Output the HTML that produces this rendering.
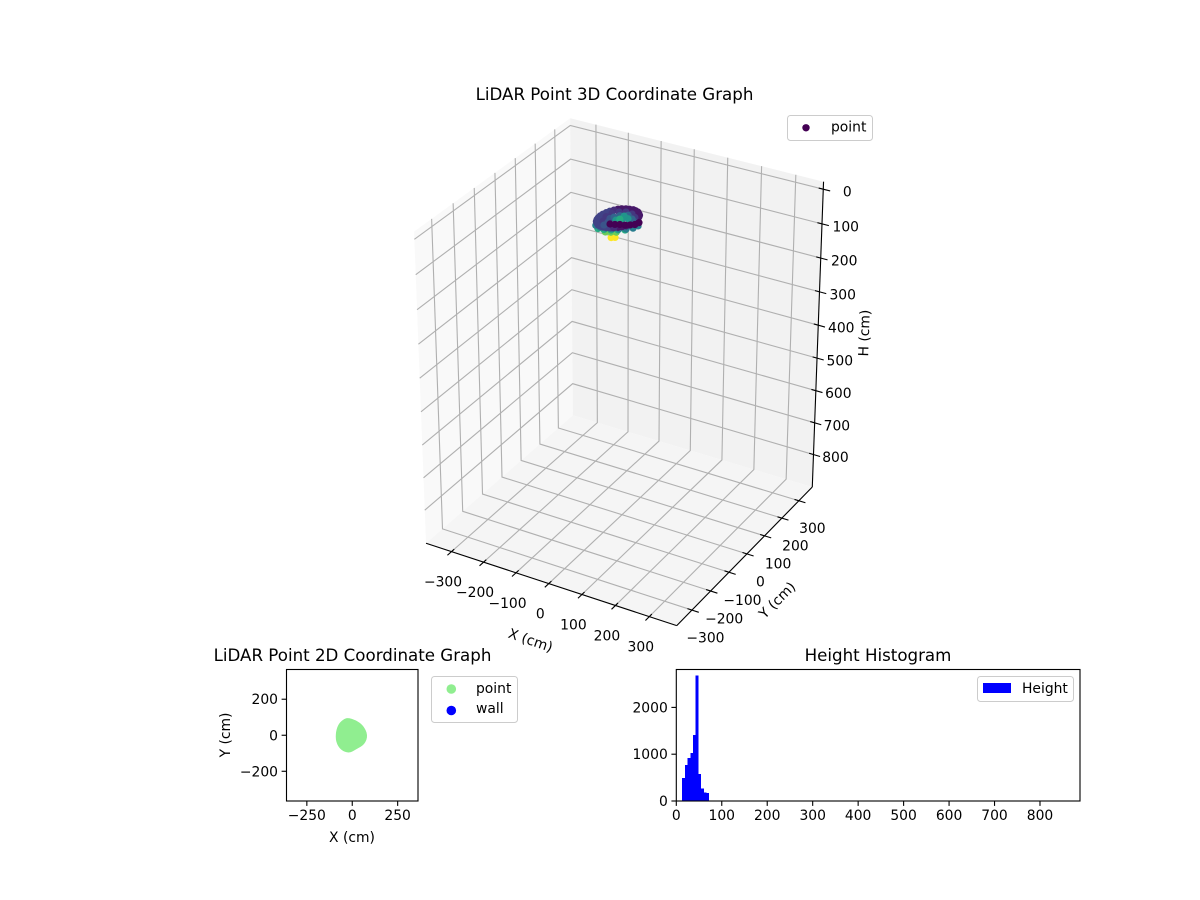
<!DOCTYPE html>
<html>
<head>
<meta charset="utf-8">
<title>LiDAR Point Graphs</title>
<style>
html,body{margin:0;padding:0;background:#fff;}
svg{display:block;}
text{font-family:"DejaVu Sans","Liberation Sans",sans-serif;font-size:13.89px;fill:#000;}
.title{font-size:16.67px;text-anchor:middle;}
.mid{text-anchor:middle;}
.end{text-anchor:end;}
.leg{fill:#000;}
</style>
</head>
<body>
<svg id="fig" xmlns="http://www.w3.org/2000/svg" width="1200" height="900" viewBox="0 0 1200 900">
<rect width="1200" height="900" fill="#fff"/>
<g id="g3d"></g>
<text class="title" x="614.5" y="100">LiDAR Point 3D Coordinate Graph</text>
<g>
<rect x="787.5" y="115.5" width="85" height="25" rx="3" fill="#fff" fill-opacity="0.8" stroke="#cccccc"/>
<circle cx="806" cy="127.8" r="3.7" fill="#440154"/>
<text x="831" y="131.5">point</text>
</g>
<g id="g2d"></g>
<text class="title" x="352.5" y="661">LiDAR Point 2D Coordinate Graph</text>
<g>
<rect x="431.5" y="676.5" width="86" height="46" rx="3" fill="#fff" fill-opacity="0.8" stroke="#cccccc"/>
<circle cx="451.3" cy="689" r="4.8" fill="#90ee90"/>
<text x="476" y="693">point</text>
<circle cx="451.3" cy="710.5" r="4.8" fill="#0000ff"/>
<text x="476" y="713">wall</text>
</g>
<g id="ghist"></g>
<text class="title" x="878" y="661">Height Histogram</text>
<g>
<rect x="977.5" y="676.5" width="96" height="25" rx="3" fill="#fff" fill-opacity="0.8" stroke="#cccccc"/>
<rect x="983" y="683" width="28" height="10" fill="#0000ff"/>
<text x="1022" y="693">Height</text>
</g>
</svg>
<script>
// ---------- chart data ----------
const xTicks3d = [-300,-200,-100,0,100,200,300];
const yTicks3d = [-300,-200,-100,0,100,200,300];
const hTicks3d = [0,100,200,300,400,500,600,700,800];
const xLim3d = [-365,365];
const yLim3d = [-365,365];
const hLim3d = [-3,885];

const pointsX = [-32,-24,
  -47,-34,-22,
  -63,-47,-30,-15,1,
  -65,-51,-35,-20,-4,12,25,30,
  25,12,-4,-23,-40,-60,-67,-67,-61,-48,-31,-13,11,25,32,30,
  19,4,-14,-32,-50,-64,-68,-65,-55,-40,-22,-1,18,29,32,28,
  -45,-51,-47,-35,-20,-1,15,
  -37,-38,-43,18,
  -42,-33,-16,3,
  -41,-30,-18,-34,-41,
  -12,0,11,24,35,44,48];
const pointsY = [0,6,
  -4,2,9,
  -14,-11,-4,5,14,
  -21,-24,-21,-16,-9,0,13,30,
  46,60,65,60,48,41,18,-5,-25,-39,-44,-39,-39,-22,2,29,
  53,63,63,55,45,30,7,-15,-32,-42,-42,-40,-31,-10,16,38,
  -18,7,30,46,55,53,40,
  -7,-26,13,30,
  32,46,59,46,
  40,52,62,70,60,
  -40,-36,-30,-26,-19,-11,3];
const pointsH = [76,76,
  62,62,62,
  52,52,52,52,52,
  40,40,40,40,40,40,40,40,
  18,18,18,18,18,26,26,26,26,26,26,26,18,18,18,18,
  18,18,18,18,22,26,26,26,26,26,26,22,18,18,18,18,
  24,24,24,24,24,24,24,
  30,30,30,30,
  34,34,34,34,
  46,46,46,46,52,
  14,14,14,14,14,14,14];

const xTicks2d = [-250,0,250];
const yTicks2d = [-200,0,200];
const xLim2d = [-362,362];
const yLim2d = [-365,365];
const blobX = [-22,16,58,84,66,22,-16,-62,-88,-88,-72,-42];
const blobY = [94,83,54,0,-50,-74,-98,-80,-36,20,64,90];

const histBinStart = 13;
const histBinWidth = 5.94;
const histCounts = [495,773,921,1028,1411,2687,581,262,180,175];
const histXTicks = [0,100,200,300,400,500,600,700,800];
const histYTicks = [0,1000,2000];
const histXLim = [0,888];
const histYLim = [0,2810];

// ---------- helpers ----------
const NS = 'http://www.w3.org/2000/svg';
function mk(parent, tag, attrs, txt){
  const el = document.createElementNS(NS, tag);
  for (const k in attrs) el.setAttribute(k, attrs[k]);
  if (txt !== undefined) el.textContent = txt;
  parent.appendChild(el);
  return el;
}
function fmt(v){ return v < 0 ? '\u2212' + (-v) : String(v); }
const viridisStops = ['#440154','#482475','#414487','#355f8d','#2a788e','#21918c','#22a884','#44bf70','#7ad151','#bddf26','#fde725'];
function hex(c){ return [1,3,5].map(i => parseInt(c.substr(i,2),16)); }
function viridis(t){
  t = Math.max(0, Math.min(1, t));
  const p = t * (viridisStops.length - 1), i = Math.min(Math.floor(p), viridisStops.length - 2), f = p - i;
  const a = hex(viridisStops[i]), b = hex(viridisStops[i+1]);
  return 'rgb(' + a.map((v,k) => Math.round(v + (b[k]-v)*f)).join(',') + ')';
}

// ---------- 3D projection ----------
const HX = 0.55, HZ = 0.672, PAD = 1 + 1/24, DIST = 12;
const U = [0.8660254, 0.5, 0];
const V = [-0.25, 0.4330127, 0.8660254];
const W = [0.4330127, -0.75, 0.5];
const pxX = v => (v - (xLim3d[0]+xLim3d[1])/2) / ((xLim3d[1]-xLim3d[0])/2) * HX;
const pxY = v => (v - (yLim3d[0]+yLim3d[1])/2) / ((yLim3d[1]-yLim3d[0])/2) * HX;
const pxH = v => HZ - (v - hLim3d[0]) / (hLim3d[1]-hLim3d[0]) * 2 * HZ;
function proj(a,b,c){
  const d = DIST - (W[0]*a + W[1]*b + W[2]*c);
  const u = (U[0]*a + U[1]*b) / d;
  const v = (V[0]*a + V[1]*b + V[2]*c) / d;
  return [622 + 3047*u, 365 - 3050*v];
}
const XN = -HX*PAD, XP = HX*PAD, YN = -HX*PAD, YP = HX*PAD, ZB = -HZ*PAD, ZT = HZ*PAD;
function pl(pts){ return pts.map(p => p[0].toFixed(2)+','+p[1].toFixed(2)).join(' '); }

const g3 = document.getElementById('g3d');
const leftPane = mk(g3,'polygon',{points:pl([proj(XN,YN,ZT),proj(XN,YP,ZT),proj(XN,YP,ZB),proj(XN,YN,ZB)]),fill:'#f9f9f9'});


const rightPane = mk(g3,'polygon',{points:pl([proj(XN,YP,ZT),proj(XP,YP,ZT),proj(XP,YP,ZB),proj(XN,YP,ZB)]),fill:'#f2f2f2'});


const floorPane = mk(g3,'polygon',{points:pl([proj(XN,YN,ZB),proj(XN,YP,ZB),proj(XP,YP,ZB),proj(XP,YN,ZB)]),fill:'#f5f5f5'});



const GRID = {fill:'none',stroke:'#b0b0b0','stroke-width':1.11};
xTicks3d.forEach(t => {
  const a = pxX(t);
  const el = mk(g3,'polyline',Object.assign({points:pl([proj(a,YN,ZB),proj(a,YP,ZB),proj(a,YP,ZT)])},GRID));
  
  
});
yTicks3d.forEach(t => {
  const b = pxY(t);
  const el = mk(g3,'polyline',Object.assign({points:pl([proj(XP,b,ZB),proj(XN,b,ZB),proj(XN,b,ZT)])},GRID));
  
  
});
hTicks3d.forEach(t => {
  const c = pxH(t);
  const el = mk(g3,'polyline',Object.assign({points:pl([proj(XN,YN,c),proj(XN,YP,c),proj(XP,YP,c)])},GRID));
  
  
});

// axis lines
const AX = {stroke:'#000','stroke-width':1.11,fill:'none'};
const axisX = mk(g3,'polyline',Object.assign({points:pl([proj(XN,YN,ZB),proj(XP,YN,ZB)])},AX));


const axisY = mk(g3,'polyline',Object.assign({points:pl([proj(XP,YN,ZB),proj(XP,YP,ZB)])},AX));


const axisH = mk(g3,'polyline',Object.assign({points:pl([proj(XP,YP,ZB),proj(XP,YP,ZT)])},AX));



// ticks + labels
xTicks3d.forEach(t => {
  const a = pxX(t);
  const p = proj(a,YN,ZB);
  const tk = mk(g3,'polyline',Object.assign({points:pl([proj(a,YN-0.03,ZB),proj(a,YN+0.02,ZB)])},AX));
  
  
  const lb = mk(g3,'text',{x:p[0]-8.5,y:p[1]+35,class:'mid'},fmt(t));
  
  
});
yTicks3d.forEach(t => {
  const b = pxY(t);
  const p = proj(XP,b,ZB);
  const tk = mk(g3,'polyline',Object.assign({points:pl([proj(XP+0.03,b,ZB),proj(XP-0.02,b,ZB)])},AX));
  
  
  const lb = mk(g3,'text',{x:p[0]+13.5,y:p[1]+32.5,class:'mid'},fmt(t));
  
  
});
hTicks3d.forEach(t => {
  const c = pxH(t);
  const p = proj(XP,YP,c);
  const tk = mk(g3,'polyline',Object.assign({points:pl([proj(XP+0.03,YP,c),proj(XP-0.02,YP,c)])},AX));
  
  
  const lb = mk(g3,'text',{x:p[0]+24-t*0.0025,y:p[1]+7.5,class:'mid'},fmt(t));
  
  
});

const xl3 = mk(g3,'text',{class:'mid',transform:'translate(530.7,640) rotate(19) translate(0,5)'},'X (cm)');


const yl3 = mk(g3,'text',{class:'mid',transform:'translate(777,600) rotate(-45) translate(0,5)'},'Y (cm)');


const hl3 = mk(g3,'text',{class:'mid',transform:'translate(864,333) rotate(-88) translate(0,5)'},'H (cm)');



// scatter
const hMin = Math.min(...pointsH), hMax = Math.max(...pointsH);
pointsX.forEach((x,i) => {
  const p = proj(pxX(x),pxY(pointsY[i]),pxH(pointsH[i]));
  const el = mk(g3,'circle',{cx:p[0].toFixed(2),cy:p[1].toFixed(2),r:3.6,fill:viridis((pointsH[i]-hMin)/(hMax-hMin))});
  
  
});

// ---------- 2D chart ----------
const g2 = document.getElementById('g2d');
const L2 = 286.5, R2 = 418, T2 = 669.5, B2 = 801;
const sx2 = v => L2 + (v-xLim2d[0])/(xLim2d[1]-xLim2d[0])*(R2-L2);
const sy2 = v => B2 - (v-yLim2d[0])/(yLim2d[1]-yLim2d[0])*(B2-T2);
const bg2 = mk(g2,'rect',{x:L2,y:T2,width:R2-L2,height:B2-T2,fill:'#fff'});


let blobD = '';
const nB = blobX.length;
blobX.forEach((x,i) => {
  const j = (i+1)%nB;
  const cx = sx2(x), cy = sy2(blobY[i]);
  const mx = (cx+sx2(blobX[j]))/2, my = (cy+sy2(blobY[j]))/2;
  if (i === 0) {
    const k = nB-1;
    blobD += 'M'+((sx2(blobX[k])+cx)/2).toFixed(2)+' '+((sy2(blobY[k])+cy)/2).toFixed(2);
  }
  blobD += 'Q'+cx.toFixed(2)+' '+cy.toFixed(2)+' '+mx.toFixed(2)+' '+my.toFixed(2);
});
const blob = mk(g2,'path',{d:blobD+'Z',fill:'#90ee90',stroke:'#90ee90','stroke-width':1});


const fr2 = mk(g2,'rect',{x:L2,y:T2,width:R2-L2,height:B2-T2,fill:'none',stroke:'#000','stroke-width':1.11});


xTicks2d.forEach(t => {
  const x = sx2(t);
  const tk = mk(g2,'line',{x1:x,x2:x,y1:B2,y2:B2+4.9,stroke:'#000','stroke-width':1.11});
  
  
  const lb = mk(g2,'text',{x:x,y:820,class:'mid'},fmt(t));
  
  
});
yTicks2d.forEach(t => {
  const y = sy2(t);
  const tk = mk(g2,'line',{x1:L2-4.9,x2:L2,y1:y,y2:y,stroke:'#000','stroke-width':1.11});
  
  
  const lb = mk(g2,'text',{x:L2-8.5,y:y+5,class:'end'},fmt(t));
  
  
});
const xl2 = mk(g2,'text',{x:352,y:842,class:'mid'},'X (cm)');


const yl2 = mk(g2,'text',{class:'mid',transform:'translate(230,735) rotate(-90)'},'Y (cm)');



// ---------- Histogram ----------
const gh = document.getElementById('ghist');
const LH = 676.3, RH = 1080, TH = 669.5, BH = 801;
const sxH = v => LH + (v-histXLim[0])/(histXLim[1]-histXLim[0])*(RH-LH);
const syH = v => BH - (v-histYLim[0])/(histYLim[1]-histYLim[0])*(BH-TH);
histCounts.forEach((c,i) => {
  const x0 = sxH(histBinStart + i*histBinWidth), x1 = sxH(histBinStart + (i+1)*histBinWidth);
  const el = mk(gh,'rect',{x:x0.toFixed(2),y:syH(c).toFixed(2),width:(x1-x0).toFixed(2),height:(BH-syH(c)).toFixed(2),fill:'#0000ff','shape-rendering':'crispEdges'});
  
  
});
const frH = mk(gh,'rect',{x:LH,y:TH,width:RH-LH,height:BH-TH,fill:'none',stroke:'#000','stroke-width':1.11});


histXTicks.forEach(t => {
  const x = sxH(t);
  const tk = mk(gh,'line',{x1:x,x2:x,y1:BH,y2:BH+4.9,stroke:'#000','stroke-width':1.11});
  
  
  const lb = mk(gh,'text',{x:x,y:820,class:'mid'},fmt(t));
  
  
});
histYTicks.forEach(t => {
  const y = syH(t);
  const tk = mk(gh,'line',{x1:LH-4.9,x2:LH,y1:y,y2:y,stroke:'#000','stroke-width':1.11});
  
  
  const lb = mk(gh,'text',{x:LH-8.5,y:y+5,class:'end'},fmt(t));
  
  
});
</script>
</body>
</html>
